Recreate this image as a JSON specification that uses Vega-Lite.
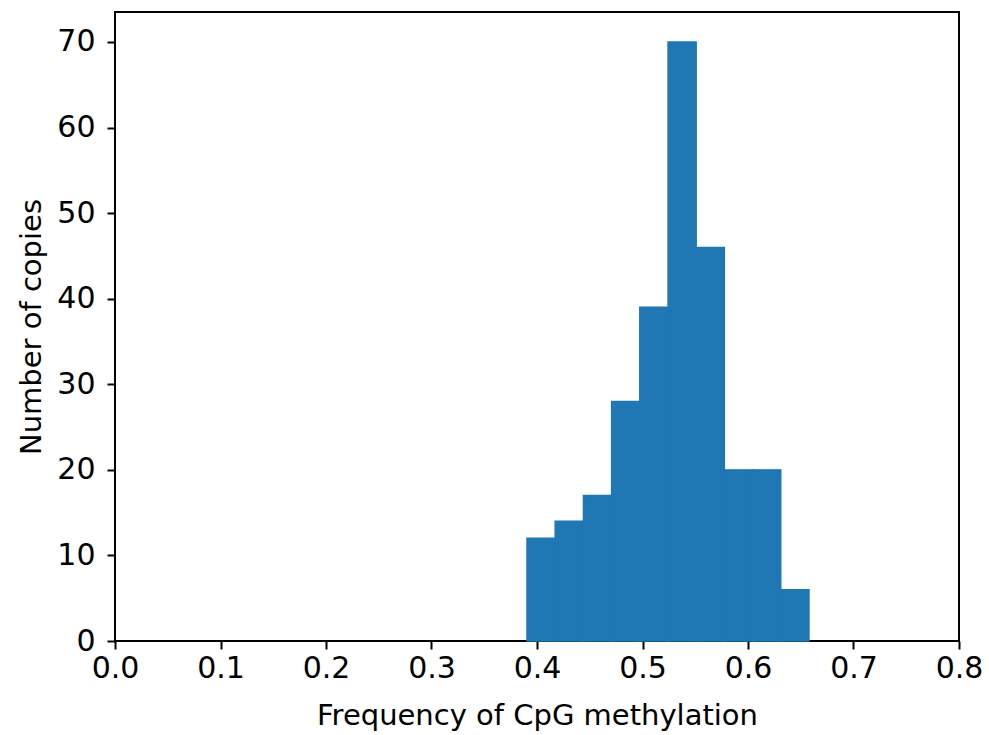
{
  "$schema": "https://vega.github.io/schema/vega-lite/v6.json",
  "autosize": {"type": "none"},
  "width": 844,
  "height": 629,
  "padding": {"left": 115, "top": 12, "right": 30, "bottom": 94},
  "background": "white",
  "data": {
    "values": [
      {"bin_start": 0.3905, "bin_end": 0.4172, "count": 12},
      {"bin_start": 0.4172, "bin_end": 0.4440, "count": 14},
      {"bin_start": 0.4440, "bin_end": 0.4707, "count": 17},
      {"bin_start": 0.4707, "bin_end": 0.4974, "count": 28},
      {"bin_start": 0.4974, "bin_end": 0.5242, "count": 39},
      {"bin_start": 0.5242, "bin_end": 0.5509, "count": 70},
      {"bin_start": 0.5509, "bin_end": 0.5776, "count": 46},
      {"bin_start": 0.5776, "bin_end": 0.6043, "count": 20},
      {"bin_start": 0.6043, "bin_end": 0.6311, "count": 20},
      {"bin_start": 0.6311, "bin_end": 0.6578, "count": 6}
    ]
  },
  "mark": {"type": "rect", "color": "#1f77b4", "stroke": "#1f77b4", "strokeWidth": 1.4, "opacity": 1},
  "encoding": {
    "x": {
      "field": "bin_start",
      "type": "quantitative",
      "scale": {"domain": [0, 0.8], "nice": false, "zero": false},
      "axis": {
        "title": "Frequency of CpG methylation",
        "values": [0, 0.1, 0.2, 0.3, 0.4, 0.5, 0.6, 0.7, 0.8],
        "format": ".1f",
        "grid": false
      }
    },
    "x2": {"field": "bin_end"},
    "y": {
      "field": "count",
      "type": "quantitative",
      "scale": {"domain": [0, 73.5], "nice": false},
      "axis": {
        "title": "Number of copies",
        "values": [0, 10, 20, 30, 40, 50, 60, 70],
        "grid": false
      }
    },
    "y2": {"datum": 0}
  },
  "config": {
    "view": {"stroke": "black", "strokeWidth": 2},
    "axis": {
      "domain": false,
      "ticks": true,
      "tickColor": "black",
      "tickWidth": 2,
      "tickSize": 8,
      "labelFont": "DejaVu Sans",
      "labelFontSize": 30,
      "labelColor": "black",
      "titleFont": "DejaVu Sans",
      "titleFontSize": 29,
      "titleFontWeight": "normal",
      "titleColor": "black"
    },
    "axisX": {"labelFlush": false, "labelPadding": 4, "titlePadding": 18},
    "axisY": {"labelPadding": 12, "titlePadding": 10}
  }
}
